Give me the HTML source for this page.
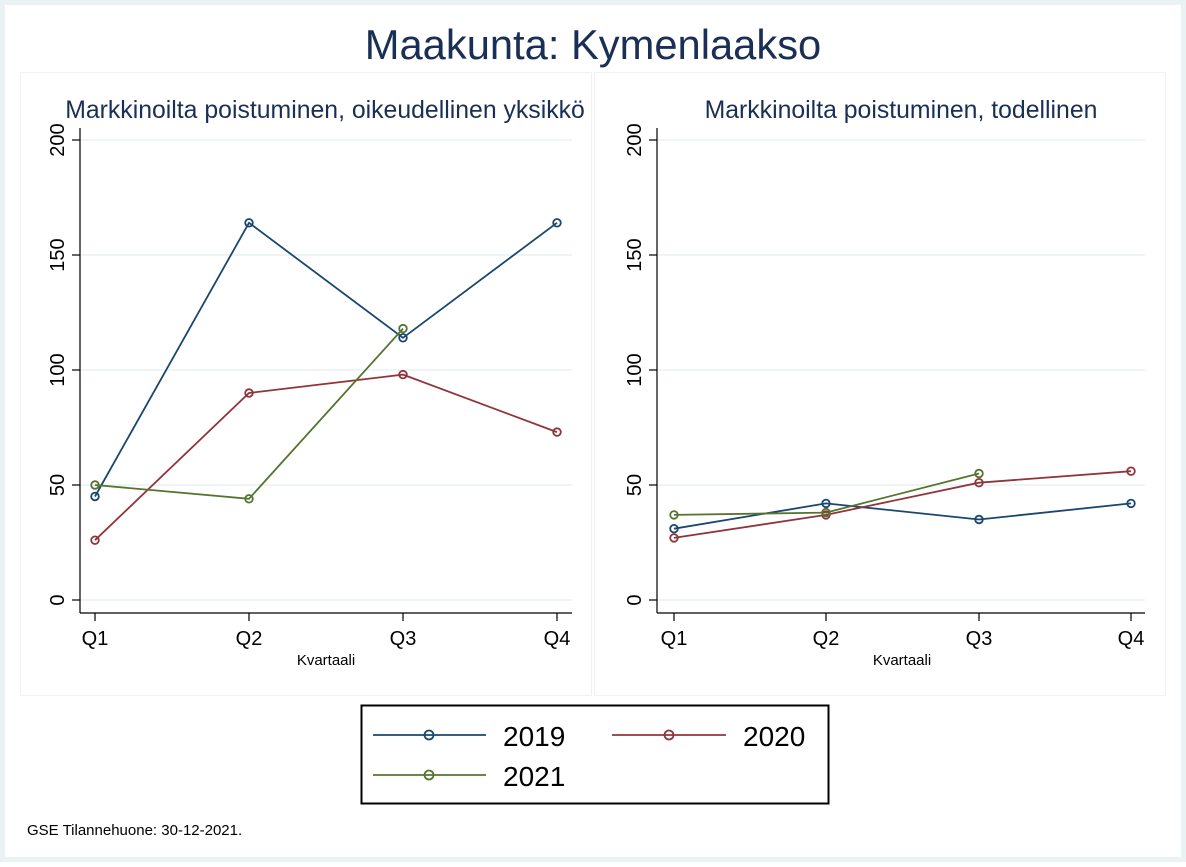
<!DOCTYPE html>
<html><head><style>body{margin:0;background:#fff}</style></head><body>
<svg width="1186" height="862" xmlns="http://www.w3.org/2000/svg" font-family="Liberation Sans, sans-serif">
<rect x="0" y="0" width="1186" height="862" fill="#eaf2f3"/>
<rect x="5" y="5" width="1176" height="852" fill="#fff"/>
<rect x="20.5" y="72.5" width="571" height="623" fill="#fff" stroke="#eef4f5"/>
<rect x="594.5" y="72.5" width="571" height="623" fill="#fff" stroke="#eef4f5"/>
<text x="593" y="59" font-size="41.7" fill="#1a2f55" text-anchor="middle">Maakunta: Kymenlaakso</text>
<text x="325" y="118" font-size="24.8" fill="#1a2f55" text-anchor="middle">Markkinoilta poistuminen, oikeudellinen yksikkö</text>
<text x="901" y="118" font-size="24.8" fill="#1a2f55" text-anchor="middle">Markkinoilta poistuminen, todellinen</text>
<g id="L">
<g stroke="#eaf2f3" stroke-width="1.5">
<line x1="80" x2="572" y1="140" y2="140"/><line x1="80" x2="572" y1="255" y2="255"/><line x1="80" x2="572" y1="370" y2="370"/><line x1="80" x2="572" y1="485" y2="485"/><line x1="80" x2="572" y1="600" y2="600"/>
</g>
<g stroke="#000" stroke-width="1.2" fill="none">
<line x1="80" y1="128" x2="80" y2="613"/><line x1="80" y1="613" x2="572" y2="613"/>
<line x1="72" x2="80" y1="140" y2="140"/><line x1="72" x2="80" y1="255" y2="255"/><line x1="72" x2="80" y1="370" y2="370"/><line x1="72" x2="80" y1="485" y2="485"/><line x1="72" x2="80" y1="600" y2="600"/>
<line x1="95" x2="95" y1="613" y2="621"/><line x1="249" x2="249" y1="613" y2="621"/><line x1="403" x2="403" y1="613" y2="621"/><line x1="557" x2="557" y1="613" y2="621"/>
</g>
<g font-size="20" fill="#000" text-anchor="middle">
<text transform="translate(64,140) rotate(-90)">200</text><text transform="translate(64,255) rotate(-90)">150</text><text transform="translate(64,370) rotate(-90)">100</text><text transform="translate(64,485) rotate(-90)">50</text><text transform="translate(64,600) rotate(-90)">0</text>
<text x="95" y="645">Q1</text><text x="249" y="645">Q2</text><text x="403" y="645">Q3</text><text x="557" y="645">Q4</text>
<text x="326" y="665" font-size="15">Kvartaali</text>
</g>
<g fill="none" stroke-width="1.8">
<polyline stroke="#1a476f" points="95,496.5 249,222.8 403,337.8 557,222.8"/>
<polyline stroke="#90353b" points="95,540.2 249,393 403,374.6 557,432.1"/>
<polyline stroke="#55752f" points="95,485 249,498.8 403,328.6"/>
<g stroke="#1a476f"><circle cx="95" cy="496.5" r="3.8"/><circle cx="249" cy="222.8" r="3.8"/><circle cx="403" cy="337.8" r="3.8"/><circle cx="557" cy="222.8" r="3.8"/></g>
<g stroke="#90353b"><circle cx="95" cy="540.2" r="3.8"/><circle cx="249" cy="393" r="3.8"/><circle cx="403" cy="374.6" r="3.8"/><circle cx="557" cy="432.1" r="3.8"/></g>
<g stroke="#55752f"><circle cx="95" cy="485" r="3.8"/><circle cx="249" cy="498.8" r="3.8"/><circle cx="403" cy="328.6" r="3.8"/></g>
</g>
</g>
<g>
<g stroke="#eaf2f3" stroke-width="1.5">
<line x1="657" x2="1145" y1="140" y2="140"/><line x1="657" x2="1145" y1="255" y2="255"/><line x1="657" x2="1145" y1="370" y2="370"/><line x1="657" x2="1145" y1="485" y2="485"/><line x1="657" x2="1145" y1="600" y2="600"/>
</g>
<g stroke="#000" stroke-width="1.2" fill="none">
<line x1="657" y1="128" x2="657" y2="613"/><line x1="657" y1="613" x2="1145" y2="613"/>
<line x1="649" x2="657" y1="140" y2="140"/><line x1="649" x2="657" y1="255" y2="255"/><line x1="649" x2="657" y1="370" y2="370"/><line x1="649" x2="657" y1="485" y2="485"/><line x1="649" x2="657" y1="600" y2="600"/>
<line x1="674" x2="674" y1="613" y2="621"/><line x1="826" x2="826" y1="613" y2="621"/><line x1="979" x2="979" y1="613" y2="621"/><line x1="1131" x2="1131" y1="613" y2="621"/>
</g>
<g font-size="20" fill="#000" text-anchor="middle">
<text transform="translate(641,140) rotate(-90)">200</text><text transform="translate(641,255) rotate(-90)">150</text><text transform="translate(641,370) rotate(-90)">100</text><text transform="translate(641,485) rotate(-90)">50</text><text transform="translate(641,600) rotate(-90)">0</text>
<text x="674" y="645">Q1</text><text x="826" y="645">Q2</text><text x="979" y="645">Q3</text><text x="1131" y="645">Q4</text>
<text x="902" y="665" font-size="15">Kvartaali</text>
</g>
<g fill="none" stroke-width="1.8">
<polyline stroke="#1a476f" points="674,528.7 826,503.4 979,519.5 1131,503.4"/>
<polyline stroke="#90353b" points="674,537.9 826,514.9 979,482.7 1131,471.2"/>
<polyline stroke="#55752f" points="674,514.9 826,512.6 979,473.5"/>
<g stroke="#1a476f"><circle cx="674" cy="528.7" r="3.8"/><circle cx="826" cy="503.4" r="3.8"/><circle cx="979" cy="519.5" r="3.8"/><circle cx="1131" cy="503.4" r="3.8"/></g>
<g stroke="#90353b"><circle cx="674" cy="537.9" r="3.8"/><circle cx="826" cy="514.9" r="3.8"/><circle cx="979" cy="482.7" r="3.8"/><circle cx="1131" cy="471.2" r="3.8"/></g>
<g stroke="#55752f"><circle cx="674" cy="514.9" r="3.8"/><circle cx="826" cy="512.6" r="3.8"/><circle cx="979" cy="473.5" r="3.8"/></g>
</g>
</g>
<rect x="361.5" y="705.5" width="467" height="98" fill="#fff" stroke="#000" stroke-width="2"/>
<g fill="none" stroke-width="1.8">
<line x1="373" x2="486" y1="735" y2="735" stroke="#1a476f"/><circle cx="429" cy="735" r="4.5" stroke="#1a476f"/>
<line x1="612" x2="726" y1="735" y2="735" stroke="#90353b"/><circle cx="669" cy="735" r="4.5" stroke="#90353b"/>
<line x1="373" x2="486" y1="775" y2="775" stroke="#55752f"/><circle cx="429" cy="775" r="4.5" stroke="#55752f"/>
</g>
<g font-size="28" fill="#000">
<text x="503" y="746">2019</text><text x="743" y="746">2020</text><text x="503" y="786">2021</text>
</g>
<text x="27" y="835" font-size="15" fill="#000">GSE Tilannehuone: 30-12-2021.</text>
</svg>
</body></html>
